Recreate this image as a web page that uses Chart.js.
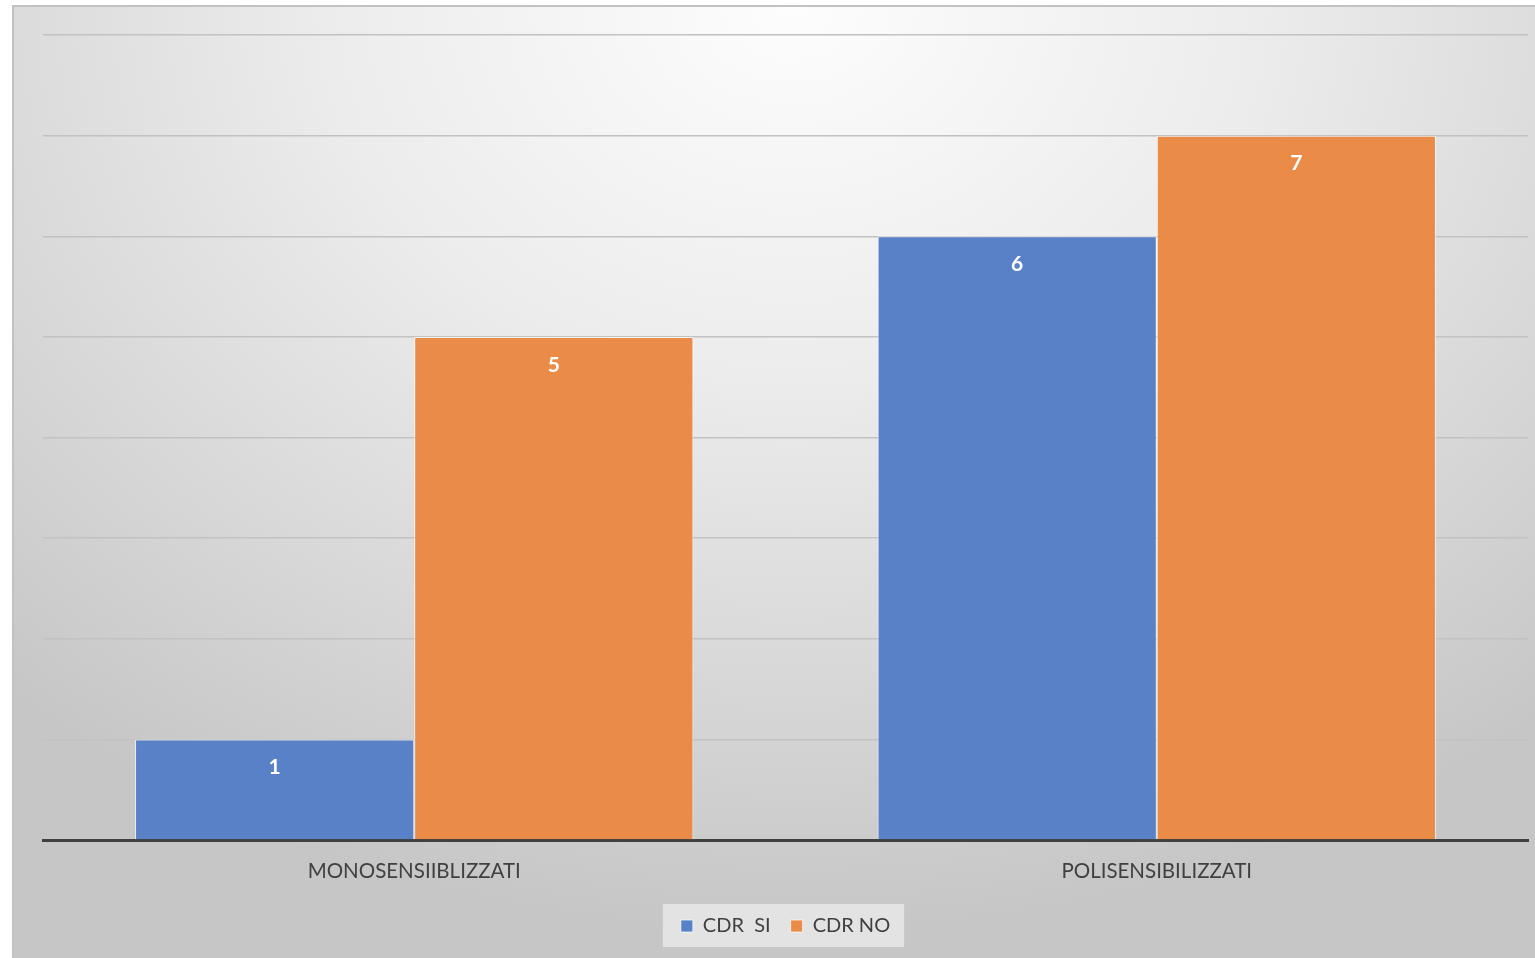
<!DOCTYPE html>
<html>
<head>
<meta charset="utf-8">
<script src="https://cdn.jsdelivr.net/npm/chart.js@4.4.1/dist/chart.umd.min.js"></script>
<style>
  html, body { margin: 0; padding: 0; background: #ffffff; overflow: hidden; }
  #frame {
    position: absolute; left: 12px; top: 5px; width: 1560px; height: 980px;
    border: 2px solid #c2c2c2; box-sizing: border-box;
    background: radial-gradient(ellipse 75% 95% at 50% 0%, #fdfdfd 0%, #ececec 40%, #d6d6d6 75%, #c6c6c6 100%);
  }
  #wrap { position: absolute; left: 0; top: 0; width: 1535px; height: 958px; }
</style>
</head>
<body>
<div id="frame"></div>
<div id="wrap"><canvas id="chart" width="1535" height="958"></canvas></div>
<script>
// Categories and series
const categories = ['MONOSENSIIBLIZZATI', 'POLISENSIBILIZZATI'];
const seriesNames = ['CDR  SI', 'CDR NO'];
const cdrSi = [1, 6];
const cdrNo = [5, 7];
const seriesColors = ['#5881c8', '#ea8b48'];

const FONT = 'Lato, "Open Sans", sans-serif';

// Value labels inside the top of each bar
const valueLabels = {
  id: 'valueLabels',
  afterDatasetsDraw(chart) {
    const ctx = chart.ctx;
    ctx.save();
    ctx.fillStyle = '#ffffff';
    ctx.font = 'bold 21px ' + FONT;
    ctx.textAlign = 'center';
    ctx.textBaseline = 'middle';
    chart.data.datasets.forEach((ds, i) => {
      chart.getDatasetMeta(i).data.forEach((bar, j) => {
        ctx.fillText(String(ds.data[j]), bar.x, bar.y + 28);
      });
    });
    ctx.restore();
  }
};

// Light panel behind the legend
const legendPanel = {
  id: 'legendPanel',
  beforeDraw(chart) {
    const lg = chart.legend;
    if (!lg || !lg.legendHitBoxes || !lg.legendHitBoxes.length) return;
    const boxes = lg.legendHitBoxes;
    const left = Math.min(...boxes.map(b => b.left)) - 18;
    const right = Math.max(...boxes.map(b => b.left + b.width)) + 14;
    const top = Math.min(...boxes.map(b => b.top)) - 12;
    const bottom = Math.max(...boxes.map(b => b.top + b.height)) + 11;
    const ctx = chart.ctx;
    ctx.save();
    ctx.fillStyle = 'rgba(232,232,232,0.85)';
    ctx.fillRect(left, top, right - left, bottom - top);
    ctx.restore();
  }
};

new Chart(document.getElementById('chart'), {
  type: 'bar',
  data: {
    labels: categories,
    datasets: [
      { label: seriesNames[0], data: cdrSi, backgroundColor: seriesColors[0] },
      { label: seriesNames[1], data: cdrNo, backgroundColor: seriesColors[1] }
    ]
  },
  options: {
    responsive: false,
    animation: false,
    devicePixelRatio: 1,
    layout: { padding: { left: 43, right: 7, top: 35, bottom: 12 } },
    datasets: {
      bar: {
        barPercentage: 1,
        categoryPercentage: 0.752,
        borderWidth: 1,
        borderColor: 'rgba(255,255,255,0.7)'
      }
    },
    scales: {
      x: {
        grid: { display: false, drawTicks: false },
        border: { display: true, color: '#404040', width: 3 },
        ticks: { color: '#404040', font: { family: FONT, size: 20.5 }, padding: 19 },
        afterFit(scale) { scale.height = 56; }
      },
      y: {
        min: 0, max: 8,
        ticks: { display: false, stepSize: 1 },
        grid: {
          drawTicks: false,
          lineWidth: 1.5,
          color: (c) => c.tick && c.tick.value === 0 ? 'rgba(0,0,0,0)' : '#c2c2c2'
        },
        border: { display: false },
        afterFit(scale) { scale.width = 0; }
      }
    },
    plugins: {
      legend: {
        position: 'bottom',
        labels: {
          boxWidth: 12, boxHeight: 12, padding: 20,
          color: '#404040',
          font: { family: FONT, size: 20 }
        }
      },
      tooltip: { enabled: false }
    }
  },
  plugins: [legendPanel, valueLabels]
});
</script>
</body>
</html>
